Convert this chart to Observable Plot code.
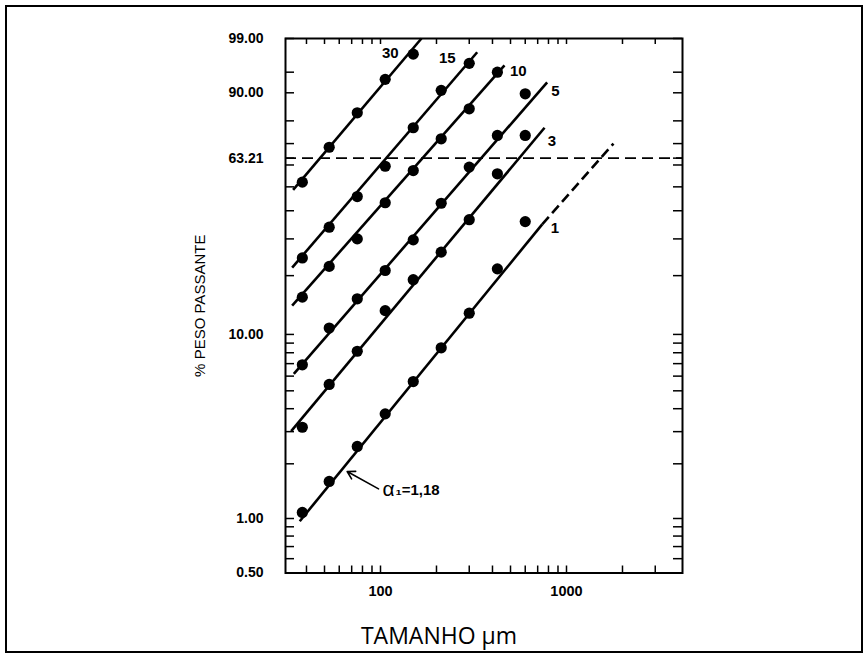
<!DOCTYPE html>
<html><head><meta charset="utf-8">
<script src="https://cdn.jsdelivr.net/npm/d3@7"></script>
<script src="https://cdn.jsdelivr.net/npm/@observablehq/plot@0.6"></script>
<style>
html,body{margin:0;padding:0;background:#fff;}
#wrap{position:relative;width:868px;height:657px;overflow:hidden;background:#fff;}
#border{position:absolute;left:5px;top:5px;width:858px;height:648px;box-sizing:border-box;border:2.5px solid #000;pointer-events:none;}
</style></head><body>
<div id="wrap"><div id="chart"></div><div id="border"></div></div>
<script>
// ---- data ----
const sizes = [38, 53, 75, 106, 150, 212, 300, 425, 600];          // µm
const seriesNames = ["30", "15", "10", "5", "3", "1"];
const pass30 = [52.1, 68.3, 83.2, 93.5, 97.7];
const pass15 = [24.4, 33.9, 45.8, 59.4, 77.1, 90.7, 96.5];
const pass10 = [15.6, 22.2, 30.0, 43.2, 57.4, 72.2, 84.7, 95.0];
const pass5  = [6.9, 10.8, 15.3, 21.2, 29.7, 43.0, 59.0, 73.7, 89.7];
const pass3  = [3.17, 5.41, 8.15, 13.3, 19.1, 26.0, 36.6, 55.9, 73.7];
const pass1  = [1.08, 1.60, 2.49, 3.75, 5.61, 8.50, 12.9, 21.6, 35.9];
// fitted lines (start / end)
const lineStartX = [33.9, 33.5, 33.5, 34.2, 33.1, 36.8];
const lineStartP = [48.7, 21.9, 14.1, 6.17, 3.02, 0.966];
const lineEndX   = [166, 331, 464, 787, 762, 740];
const lineEndP   = [99.0, 97.9, 96.2, 92.8, 77.1, 34.9];
// dashed extension of line "1"
const dashX = [740, 1789];
const dashP = [34.9, 70.0];
// line labels
const labelX = [113, 228.5, 551, 872, 835, 867];
const labelP = [97.8, 97.2, 95.2, 90.5, 71.1, 33.4];
// annotation
const annAlpha = "α";
const annRest = "₁=1,18";
const annArrowFrom = [97.6, 1.457];
const annArrowTo = [66.2, 1.815];
const annTextAt = [102.5, 1.457];
// reference level
const refLevel = 63.21;
// axes
const yTickLabels = [99, 90, 63.21, 10, 1, 0.5];
const yMinorTicks = [99, 95, 90, 80, 70, 63.21, 60, 50, 40, 30, 20, 10, 9, 8, 7, 6, 5, 4, 3, 2, 1, 0.9, 0.8, 0.7, 0.6, 0.5];
const xTickLabels = [100, 1000];
const xMinorTicks = [40, 50, 60, 70, 80, 90, 100, 200, 300, 400, 500, 600, 700, 800, 900, 1000, 2000, 3000];
const xDomain = [30.85, 4204];
const yDomainP = [0.5, 99];
const xTitle = "TAMANHO μm";
const yTitle = "% PESO PASSANTE";

// ---- Rosin-Rammler (Weibull) transform of % passing ----
const W = p => Math.log(-Math.log(1 - p / 100));
const Winv = w => 100 * (1 - Math.exp(-Math.exp(w)));
const fmt = d3.format(".2f");

const allPass = [pass30, pass15, pass10, pass5, pass3, pass1];
const points = [];
allPass.forEach((arr, s) => arr.forEach((p, i) => points.push({x: sizes[i], p, s: seriesNames[s]})));
const lines = seriesNames.map((s, i) => ({s, x1: lineStartX[i], p1: lineStartP[i], x2: lineEndX[i], p2: lineEndP[i]}));
const dashLine = [{x1: dashX[0], p1: dashP[0], x2: dashX[1], p2: dashP[1]}];
const labels = seriesNames.map((s, i) => ({s, x: labelX[i], p: labelP[i]}));

const width = 868, height = 657;
const mL = 285, mR = 186, mT = 38, mB = 84.5;
const fw = width - mL - mR, fh = height - mT - mB;
const font = "'Liberation Sans', Arial, Helvetica, sans-serif";

const chart = Plot.plot({
  width, height,
  marginLeft: mL, marginRight: mR, marginTop: mT, marginBottom: mB,
  style: {fontFamily: font, background: "white", color: "#000"},
  x: {type: "log", domain: xDomain},
  y: {type: "linear", domain: yDomainP.map(W)},
  marks: [
    Plot.ruleY([refLevel], {y: W, stroke: "#000", strokeWidth: 1.8, strokeDasharray: "11,6"}),
    Plot.link(lines, {x1: "x1", y1: d => W(d.p1), x2: "x2", y2: d => W(d.p2), stroke: "#000", strokeWidth: 2.6}),
    Plot.link(dashLine, {x1: "x1", y1: d => W(d.p1), x2: "x2", y2: d => W(d.p2), stroke: "#000", strokeWidth: 2.6, strokeDasharray: "10,5"}),
    Plot.dot(points, {x: "x", y: d => W(d.p), r: 5.6, fill: "#000", stroke: "none"}),
    Plot.text(labels, {x: "x", y: d => W(d.p), text: "s", fontSize: 15, fontWeight: "bold", fill: "#000"}),
    Plot.arrow([0], {x1: () => annArrowFrom[0], y1: () => W(annArrowFrom[1]), x2: () => annArrowTo[0], y2: () => W(annArrowTo[1]), stroke: "#000", strokeWidth: 1.6, headLength: 8}),
    Plot.text([annAlpha], {x: () => annTextAt[0], y: () => W(annTextAt[1]), text: d => d, textAnchor: "start", fontSize: 21, fill: "#000"}),
    Plot.text([annRest], {x: () => annTextAt[0], y: () => W(annTextAt[1]), text: d => d, textAnchor: "start", dx: 13, dy: 1, fontSize: 15, fontWeight: "bold", fill: "#000"}),
    Plot.tickY(yMinorTicks, {y: W, insetRight: fw - 9, stroke: "#000", strokeWidth: 1.5}),
    Plot.tickY(yMinorTicks, {y: W, insetLeft: fw - 9, stroke: "#000", strokeWidth: 1.5}),
    Plot.tickX(xMinorTicks, {x: d => d, insetTop: fh - 7, stroke: "#000", strokeWidth: 1.5}),
    Plot.tickX(xMinorTicks, {x: d => d, insetBottom: fh - 6, stroke: "#000", strokeWidth: 1.5}),
    Plot.axisY({ticks: yTickLabels.map(W), tickSize: 0, tickPadding: 22, tickFormat: w => fmt(Winv(w)), fontSize: 14, fontWeight: "bold", label: null}),
    Plot.axisX({ticks: xTickLabels, tickSize: 0, tickPadding: 13, tickFormat: d => String(d), fontSize: 14.5, fontWeight: "bold", label: null}),
    Plot.frame({stroke: "#000", strokeWidth: 2}),
    Plot.text([yTitle], {frameAnchor: "left", dx: -85, rotate: -90, text: d => d, textAnchor: "middle", lineAnchor: "middle", fontSize: 15, fill: "#000"}),
    Plot.text([xTitle], {frameAnchor: "bottom", dx: -45, dy: 63.5, text: d => d, textAnchor: "middle", lineAnchor: "middle", fontSize: 23, fontFamily: "'Open Sans', sans-serif", fill: "#000"})
  ]
});
document.getElementById("chart").appendChild(chart);
</script>
</body></html>
